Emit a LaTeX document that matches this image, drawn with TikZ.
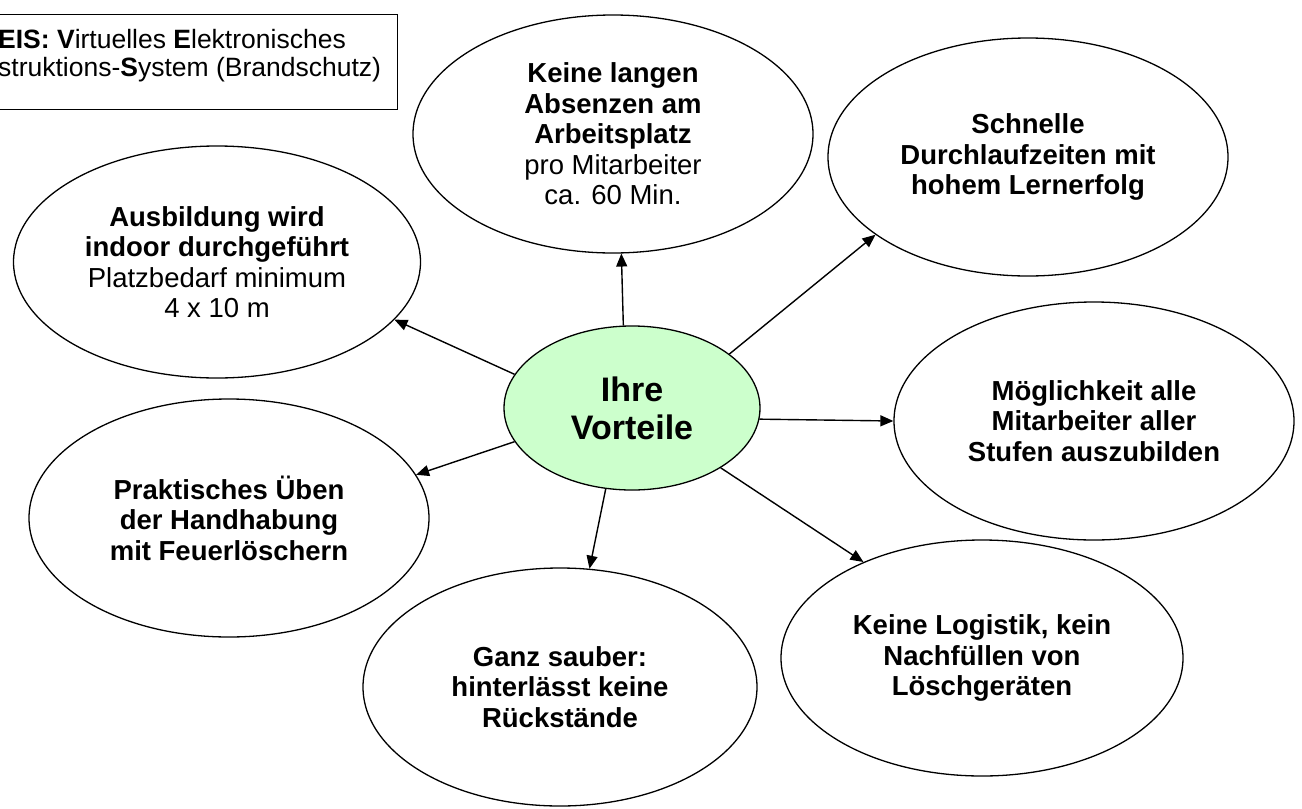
\documentclass[tikz,border=0pt]{standalone}
\usepackage{fontspec}
\setmainfont{Liberation Sans}
\usepackage[usenames,dvipsnames]{xcolor}
\usetikzlibrary{arrows.meta,shapes.geometric}
\definecolor{hubgreen}{HTML}{CCFFCC}

\begin{document}
\begin{tikzpicture}[x=1pt, y=-1pt,
  bubble/.style={draw, ellipse, line width=1.3pt, minimum width=400pt, minimum height=238pt, inner sep=0pt, align=center, font=\fontsize{27.5}{30.5}\selectfont},
  hub/.style={bubble, fill=hubgreen, minimum width=256pt, minimum height=164pt, font=\bfseries\fontsize{34}{38}\selectfont},
  link/.style={-{Triangle[length=13pt, width=11pt]}, line width=1.4pt}]

\useasboundingbox (0,0) rectangle (1302,809);

% info box

\node[draw, line width=1.2pt, minimum width=410pt, minimum height=95pt, anchor=north west, inner sep=0pt] (veisbox) at (-13, 14) {};
\node[anchor=north west, align=left, inner sep=0pt, font=\fontsize{26.5}{28}\selectfont] (veis) at (-2, 29) {\textbf{EIS: V}irtuelles \textbf{E}lektronisches\\struktions-\textbf{S}ystem (Brandschutz)};

% centre node

\node[hub] (vort) at (632, 408) {Ihre\\Vorteile};

% outer nodes

\node[bubble] (abs) at (613, 134) {\textbf{Keine langen}\\\textbf{Absenzen am}\\\textbf{Arbeitsplatz}\\pro Mitarbeiter\\ca. 60 Min.};
\node[bubble] (schnell) at (1028, 157) {\textbf{Schnelle}\\\textbf{Durchlaufzeiten mit}\\\textbf{hohem Lernerfolg}};
\node[bubble, minimum width=407pt, minimum height=232pt] (ausb) at (217, 262) {\textbf{Ausbildung wird}\\\textbf{indoor durchgeführt}\\Platzbedarf minimum\\4 x 10 m};
\node[bubble] (moeg) at (1094, 421) {\textbf{Möglichkeit alle}\\\textbf{Mitarbeiter aller}\\\textbf{Stufen auszubilden}};
\node[bubble] (prakt) at (229, 518) {\textbf{Praktisches Üben}\\\textbf{der Handhabung}\\\textbf{mit Feuerlöschern}};
\node[bubble, minimum width=394pt] (ganz) at (560, 687) {\textbf{Ganz sauber:}\\\textbf{hinterlässt keine}\\\textbf{Rückstände}};
\node[bubble, minimum width=402pt, minimum height=236pt] (logi) at (982, 658) {\textbf{Keine Logistik, kein}\\\textbf{Nachfüllen von}\\\textbf{Löschgeräten}};

% centre to outer
\draw [link] (vort.96) -- (abs.274);
\draw [link] (vort.29) -- (schnell.207.7);
\draw [link] (vort.355) -- (moeg.180);
\draw [link] (vort.326.6) -- (logi.141.3);
\draw [link] (vort.252.8) -- (ganz.76);
\draw [link] (vort.196.1) -- (prakt.13.9);
\draw [link] (vort.164.5) -- (ausb.342.8);

\end{tikzpicture}
\end{document}
